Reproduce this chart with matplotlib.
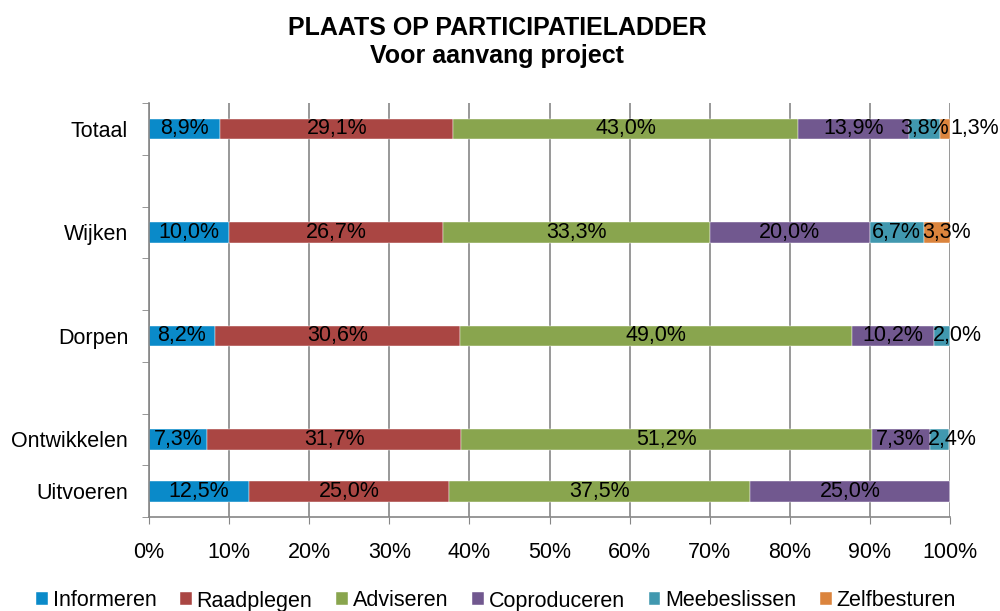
import numpy as np
import matplotlib
matplotlib.use("Agg")
import matplotlib.pyplot as plt

plt.rcParams['font.family'] = ['Liberation Sans', 'DejaVu Sans']

# Data (percentages)
categories = ["Totaal", "Wijken", "Dorpen", "Ontwikkelen", "Uitvoeren"]
slots = [0, 2, 4, 6, 7]     # row slot of each category (Excel had empty rows)
series = ["Informeren", "Raadplegen", "Adviseren", "Coproduceren", "Meebeslissen", "Zelfbesturen"]
informeren = [8.9, 10.0, 8.2, 7.3, 12.5]
raadplegen = [29.1, 26.7, 30.6, 31.7, 25.0]
adviseren = [43.0, 33.3, 49.0, 51.2, 37.5]
coproduceren = [13.9, 20.0, 10.2, 7.3, 25.0]
meebeslissen = [3.8, 6.7, 2.0, 2.4, 0.0]
zelfbesturen = [1.3, 3.3, 0.0, 0.0, 0.0]
colors = ["#0A8AC9", "#AA4643", "#89A54E", "#71588F", "#4198AF", "#DB843D"]

values = [informeren, raadplegen, adviseren, coproduceren, meebeslissen, zelfbesturen]
FS = 15.5

fig = plt.figure(figsize=(10, 6.11), dpi=100)
ax = fig.add_axes([0.149, 0.1538, 0.801, 0.6776])

y = np.array(slots) + 0.5
left = np.zeros(len(categories))
for i, (name, vals, col) in enumerate(zip(series, values, colors)):
    vals = np.array(vals)
    ax.barh(y, vals, left=left, height=0.4, color=col, label=name,
            edgecolor="white", linewidth=0.3)
    for yi, l, v in zip(y, left, vals):
        if v <= 0:
            continue
        txt = ("%.1f%%" % v).replace(".", ",")
        if v < 1.5:
            # too small: put it past the end of the bar
            ax.text(100.1, yi, txt, ha="left", va="center", fontsize=FS)
        elif v < 3.5 and i > 3:
            # narrow segment at the end: start the text at the segment
            ax.text(l - 0.2, yi, txt, ha="left", va="center", fontsize=FS)
        else:
            ax.text(l + v / 2, yi, txt, ha="center", va="center", fontsize=FS)
    left += vals

ax.set_xlim(0, 100)
ax.set_ylim(8, 0)
ax.set_xticks(np.arange(0, 101, 10))
ax.set_xticklabels(["%d%%" % t for t in range(0, 101, 10)], fontsize=FS)
ax.set_yticks(np.arange(0, 9), minor=True)
ax.set_yticks(y)
ax.set_yticklabels(categories, fontsize=FS)
ax.tick_params(axis="y", which="major", length=0, pad=15)
ax.tick_params(axis="y", which="minor", length=5, color="#868686")
ax.tick_params(axis="x", length=5, color="#868686", pad=13)
ax.grid(axis="x", color="#868686", linewidth=1.2)
ax.set_axisbelow(True)
for s in ["top", "right"]:
    ax.spines[s].set_visible(False)
for s in ["left", "bottom"]:
    ax.spines[s].set_color("#868686")
    ax.spines[s].set_linewidth(1.2)

fig.text(0.497, 1 - 28 / 611, "PLAATS OP PARTICIPATIELADDER", ha="center", va="center",
         fontsize=18, fontweight="bold")
fig.text(0.497, 1 - 56 / 611, "Voor aanvang project", ha="center", va="center",
         fontsize=18, fontweight="bold")

fig.legend(loc="center", bbox_to_anchor=(0.496, 1 - 601 / 611), ncol=6, frameon=False,
           fontsize=FS, handlelength=0.55, handleheight=0.55, handletextpad=0.2,
           columnspacing=1.12, borderpad=0)

fig.savefig("out.png", dpi=100)
